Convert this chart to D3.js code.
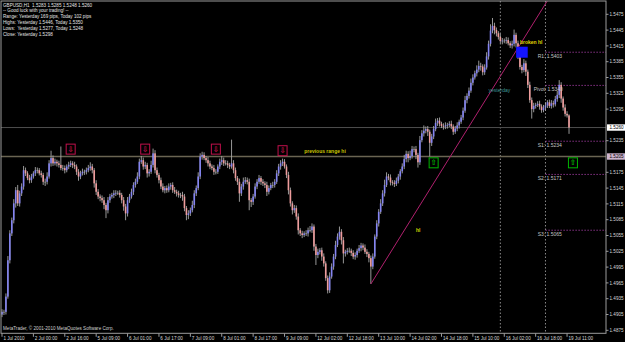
<!DOCTYPE html>
<html>
<head>
<meta charset="utf-8">
<script src="https://d3js.org/d3.v7.min.js"></script>
<style>
  body { margin: 0; background: #000; }
  svg text { font-family: "Liberation Sans", Arial, sans-serif; }
</style>
</head>
<body>
<div id="chart"></div>
<script>
// GBPUSD H1, prices kept in pips after "1." (5260 -> 1.5260)
var closes = [
  4910,4910,4939,5008,5059,5084,5116,5141,5116,5135,
  5148,5179,5173,5164,5160,5167,5173,5179,5179,5173,
  5170,5157,5157,5167,5192,5202,5192,5195,5192,5189,
  5183,5183,5179,5186,5189,5192,5189,5186,5176,5167,
  5173,5176,5176,5179,5183,5186,5179,5154,5138,5129,
  5126,5122,5113,5103,5122,5129,5132,5135,5136,5136,
  5132,5122,5110,5097,5122,5129,5138,5151,5157,5167,
  5195,5198,5186,5189,5173,5176,5189,5211,5179,5170,
  5160,5148,5141,5145,5141,5148,5151,5141,5138,5135,
  5132,5132,5129,5107,5094,5097,5103,5113,5135,5145,
  5167,5205,5208,5202,5198,5192,5186,5183,5176,5176,
  5186,5195,5198,5192,5192,5189,5186,5192,5179,5164,
  5157,5135,5148,5157,5160,5157,5122,5119,5129,5148,
  5157,5164,5157,5154,5151,5138,5145,5151,5151,5157,
  5173,5186,5192,5195,5186,5170,5141,5116,5103,5107,
  5091,5065,5059,5056,5059,5059,5065,5065,5072,5034,
  5018,5024,5027,5015,5002,4974,4951,4977,4996,5015,
  5037,5053,5062,5046,5021,5024,5026,5026,5022,5015,
  5018,5026,5031,5036,5032,5024,5020,5012,4996,5015,
  5053,5078,5100,5116,5135,5151,5167,5165,5156,5155,
  5153,5159,5167,5177,5186,5200,5210,5202,5206,5219,
  5219,5208,5194,5236,5249,5254,5257,5252,5231,5243,
  5257,5269,5273,5267,5263,5262,5264,5265,5267,5262,
  5252,5258,5264,5271,5279,5292,5312,5320,5330,5345,
  5355,5363,5370,5377,5376,5365,5374,5395,5419,5444,
  5453,5445,5439,5432,5424,5425,5425,5426,5420,5416,
  5419,5436,5420,5396,5375,5369,5382,5366,5341,5312,
  5295,5301,5303,5305,5300,5293,5298,5302,5308,5301,
  5306,5304,5314,5322,5341,5315,5298,5286,5283,5260
];
var firstOpen = 4905;
var upWicks = [
  5,4,6,8,6,5,8,6,10,5, 6,8,5,4,6,5,4,6,5,4, 5,4,6,8,6,14,5,6,4,5,
  35,6,5,4,6,5,4,6,4,5, 5,6,4,5,6,8,5,4,6,5, 4,5,6,4,6,5,4,6,5,4,
  5,4,6,5,6,5,6,5,6,8, 6,8,5,6,4,5,8,9,6,5, 4,5,6,4,5,6,4,5,6,4,
  5,4,6,5,4,6,5,8,6,5, 8,6,6,5,4,6,5,4,6,5, 4,6,8,5,6,5,4,45,6,5,
  4,6,5,8,6,5,6,4,5,6, 5,6,4,5,4,6,5,4,6,5, 6,5,6,6,5,4,6,5,4,6,
  5,6,4,5,4,6,5,8,6,4, 5,6,4,5,6,4,5,8,6,5, 8,6,10,5,6,4,5,6,4,5,
  5,4,6,5,4,6,5,4,5,6, 4,6,5,8,6,10,8,5,6,4, 5,6,5,4,6,8,6,5,10,6,
  5,6,4,8,6,10,5,6,4,5, 6,8,5,6,4,5,6,4,5,6, 4,5,6,4,5,6,8,5,6,8,
  6,5,8,10,6,4,6,8,6,12, 15,6,5,4,6,5,4,6,5,4, 6,10,4,5,6,4,8,5,4,6,
  5,6,4,5,6,4,5,6,4,5, 6,5,6,8,9,5,4,6,5,2
];
var downWicks = [
  5,6,5,4,6,5,6,8,5,6, 5,6,5,4,6,5,4,5,6,4, 5,6,8,5,4,6,5,4,6,5,
  4,5,6,4,5,4,6,5,6,8, 5,4,6,5,4,5,6,8,6,5, 6,5,8,15,6,5,4,6,5,4,
  5,6,8,13,6,5,4,6,5,4, 5,4,6,5,8,6,4,5,6,5, 6,5,4,6,5,4,6,5,4,6,
  5,6,8,6,10,8,5,4,6,5, 4,5,6,4,5,6,5,4,6,5, 4,5,6,5,4,6,5,4,6,5,
  6,16,5,6,4,5,19,10,6,4, 5,4,6,5,6,8,5,4,6,5, 4,5,6,5,4,6,8,6,8,5,
  6,8,5,6,4,5,6,4,5,8, 19,6,5,8,6,5,6,5,4,6, 5,4,6,8,19,6,5,4,6,5,
  6,5,4,6,5,4,6,8,33,5, 4,5,6,4,5,6,4,5,6,5, 6,4,5,6,4,5,6,8,4,5,
  6,8,10,5,4,6,5,8,26,6, 5,4,6,5,4,6,5,6,4,5, 6,4,5,6,4,5,4,6,5,4,
  5,4,6,5,8,6,5,4,6,5, 5,8,6,5,4,6,5,6,4,5, 6,5,8,6,5,6,4,8,6,5,
  18,6,5,4,6,5,4,6,5,4, 5,6,4,5,6,8,6,5,4,12
];

var timeLabels = ["1 Jul 2010","2 Jul 00:00","2 Jul 16:00","5 Jul 09:00","6 Jul 01:00","6 Jul 17:00",
  "7 Jul 09:00","8 Jul 01:00","8 Jul 17:00","9 Jul 09:00","12 Jul 02:00","12 Jul 18:00","13 Jul 10:00",
  "14 Jul 02:00","14 Jul 18:00","15 Jul 10:00","16 Jul 02:00","16 Jul 18:00","19 Jul 11:00"];
var timeLabelBars = [0,16,32,48,64,80,96,112,128,144,160,176,192,208,224,240,256,272,288];

// 1.5265 and 1.5205 sit under the price tags, so they are not listed
var priceTicks = [1.5475,1.5445,1.5415,1.5385,1.5355,1.5325,1.5295,1.5235,1.5175,
  1.5145,1.5115,1.5085,1.5055,1.5025,1.4995,1.4965,1.4935,1.4905,1.4875];

var pivotNames = ["R1","Pivot","S1","S2","S3"];
var pivotValues = [1.5403,1.5340,1.5234,1.5171,1.5065];
var pivotLabelBars = [273,271,273,273,273];
var pivotStartBar = 277;

var daySeparatorBars = [254, 277];
var lastPrice = 1.5260;
var rangeHi = 1.5205;

var trendBars = [188, 233];
var trendPrices = [1.4963, 1.5232];

var sellBars = [35, 73, 109, 143];
var sellPrices = [1.5219, 1.5219, 1.5219, 1.5216];
var buyBars = [220, 291];
var buyPrices = [1.5193, 1.5193];

var infoLines = ["GBPUSD,H1  1.5283 1.5285 1.5248 1.5260",
  "-- Good luck with your trading! --",
  "Range: Yesterday 169 pips, Today 102 pips",
  "Highs: Yesterday 1.5446, Today 1.5350",
  "Lows:  Yesterday 1.5277, Today 1.5248",
  "Close: Yesterday 1.5298"];

var width = 625, height = 342;
var plotRight = 606, plotBottom = 333.3;

function price(p) { return 1 + p / 10000; }

var bars = closes.map(function(c, i) {
  var o = i == 0 ? firstOpen : closes[i - 1];
  return {
    i: i,
    o: price(o),
    c: price(c),
    h: price(Math.max(o, c) + upWicks[i]),
    l: price(Math.min(o, c) - downWicks[i])
  };
});

var x = d3.scaleLinear().domain([0, 289]).range([2, 2 + 1.962 * 289]);
var y = d3.scaleLinear().domain([1.4875, 1.5475]).range([330.3, 14.3]);

var svg = d3.select("#chart").append("svg")
    .attr("width", width)
    .attr("height", height);

svg.append("rect").attr("width", width).attr("height", height).attr("fill", "#000");

svg.append("clipPath").attr("id", "plot")
  .append("rect").attr("x", 1).attr("y", 1).attr("width", plotRight - 1).attr("height", plotBottom - 1);

var plot = svg.append("g").attr("clip-path", "url(#plot)");

// day separators
plot.selectAll(".sep").data(daySeparatorBars).enter().append("line")
    .attr("x1", function(d) { return x(d); })
    .attr("x2", function(d) { return x(d); })
    .attr("y1", 1).attr("y2", plotBottom)
    .style("stroke", "#8a8a8a")
    .style("stroke-dasharray", "1.5,2");

// horizontal levels
plot.append("line")
    .attr("x1", 1).attr("x2", plotRight)
    .attr("y1", y(lastPrice)).attr("y2", y(lastPrice))
    .style("stroke", "#4e4e4e");
plot.append("line")
    .attr("x1", 1).attr("x2", plotRight)
    .attr("y1", y(rangeHi)).attr("y2", y(rangeHi))
    .style("stroke", "#6a6452")
    .style("stroke-width", 1.3);

// pivot levels
plot.selectAll(".piv").data(pivotValues).enter().append("line")
    .attr("x1", x(pivotStartBar)).attr("x2", plotRight)
    .attr("y1", function(d) { return y(d); })
    .attr("y2", function(d) { return y(d); })
    .style("stroke", "#9a3a9a")
    .style("stroke-dasharray", "1.3,1.7");

// candles
var candle = plot.append("g").selectAll("g").data(bars).enter().append("g");
candle.append("line")
    .attr("x1", function(d) { return x(d.i); })
    .attr("x2", function(d) { return x(d.i); })
    .attr("y1", function(d) { return y(d.h); })
    .attr("y2", function(d) { return y(d.l); })
    .style("stroke", "#a8a8a8")
    .style("stroke-width", 0.9);
candle.append("rect")
    .attr("x", function(d) { return x(d.i) - 0.8; })
    .attr("width", 1.6)
    .attr("y", function(d) { return y(Math.max(d.o, d.c)); })
    .attr("height", function(d) { return Math.max(0.7, Math.abs(y(d.o) - y(d.c))); })
    .style("fill", function(d) {
      if (d.c > d.o) return "#8484f2";
      if (d.c < d.o) return "#ee9c9c";
      return "#a8a8a8";
    });

// trend line
var tSlope = (trendPrices[1] - trendPrices[0]) / (trendBars[1] - trendBars[0]);
plot.append("line")
    .attr("x1", x(trendBars[0])).attr("y1", y(trendPrices[0]))
    .attr("x2", x(320)).attr("y2", y(trendPrices[0] + tSlope * (320 - trendBars[0])))
    .style("stroke", "#b0206e")
    .style("stroke-width", 1);

// signal boxes
function signal(barsArr, prices, color, glyph) {
  var g = plot.selectAll(null).data(barsArr).enter().append("g")
      .attr("transform", function(d, i) { return "translate(" + x(d) + "," + y(prices[i]) + ")"; });
  g.append("rect")
      .attr("x", -4.5).attr("y", -5).attr("width", 9).attr("height", 10)
      .style("fill", "none").style("stroke", color).style("stroke-width", 1);
  g.append("text")
      .attr("text-anchor", "middle").attr("y", 2.6)
      .style("font-family", "DejaVu Sans").style("font-size", "7.5px")
      .style("font-weight", "bold")
      .style("fill", color).text(glyph);
}
signal(sellBars, sellPrices, "#c0104c", "\u21e9");
signal(buyBars, buyPrices, "#00b400", "\u21e7");

// broken-line marker
plot.append("rect")
    .attr("x", x(265) - 5.8).attr("y", y(1.5403) - 5.5)
    .attr("width", 11.6).attr("height", 11)
    .style("fill", "#1414ff");

// annotations
function note(bar, p, txt, color, bold) {
  plot.append("text")
      .attr("x", x(bar)).attr("y", y(p) + 1.7)
      .style("font-size", "5px")
      .style("font-weight", bold ? "bold" : "normal")
      .style("fill", color)
      .text(txt);
}
note(154, 1.5214, "previous range hi", "#c8c400", true);
note(211, 1.5064, "hl", "#d8d400", true);
note(264, 1.5421, "broken hl", "#e0d400", true);
note(248, 1.5330, "yesterday", "#3e9a9a", false);
pivotNames.forEach(function(n, i) {
  plot.append("text")
      .attr("x", x(pivotLabelBars[i]))
      .attr("y", y(pivotValues[i]) + 5.3)
      .style("font-size", "5px")
      .style("fill", "#c4c4c4")
      .text(n + ": " + pivotValues[i].toFixed(4));
});

// frame
svg.append("rect")
    .attr("x", 1).attr("y", 1)
    .attr("width", plotRight - 1).attr("height", plotBottom - 1)
    .style("fill", "none").style("stroke", "#9c9c9c");

// price axis
var yTick = svg.append("g").selectAll("g").data(priceTicks).enter().append("g")
    .attr("transform", function(d) { return "translate(" + plotRight + "," + y(d) + ")"; });
yTick.append("line").attr("x2", 2.5).style("stroke", "#9c9c9c");
yTick.append("text").attr("x", 3.5).attr("y", 1.6)
    .style("font-size", "4.6px").style("fill", "#d8d8d8")
    .text(function(d) { return d.toFixed(4); });

function priceTag(p, bg) {
  svg.append("rect").attr("x", plotRight + 1).attr("y", y(p) - 3.2)
      .attr("width", 18).attr("height", 6.4).style("fill", bg);
  svg.append("text").attr("x", plotRight + 3.5).attr("y", y(p) + 1.6)
      .style("font-size", "4.6px").style("fill", "#000").text(p.toFixed(4));
}
priceTag(lastPrice, "#ffffff");
priceTag(rangeHi, "#cdb4cd");

// time axis
var xTick = svg.append("g").selectAll("g").data(timeLabelBars).enter().append("g")
    .attr("transform", function(d) { return "translate(" + x(d) + "," + plotBottom + ")"; });
xTick.append("line").attr("y2", 3.5).style("stroke", "#9c9c9c");
xTick.append("text").attr("x", 1.4).attr("y", 6.4)
    .style("font-size", "4.6px").style("fill", "#d8d8d8")
    .text(function(d, i) { return timeLabels[i]; });

// info text
svg.append("g").selectAll("text").data(infoLines).enter().append("text")
    .attr("x", 3)
    .attr("y", function(d, i) { return 6.6 + 5.8 * i; })
    .style("font-size", "4.6px")
    .style("fill", "#e4e4e4")
    .style("white-space", "pre")
    .text(function(d) { return d; });

svg.append("text").attr("x", 3).attr("y", 329.8)
    .style("font-size", "4.6px").style("fill", "#d0d0d0")
    .text("MetaTrader, \u00a9 2001-2010 MetaQuotes Software Corp.");
</script>
</body>
</html>
